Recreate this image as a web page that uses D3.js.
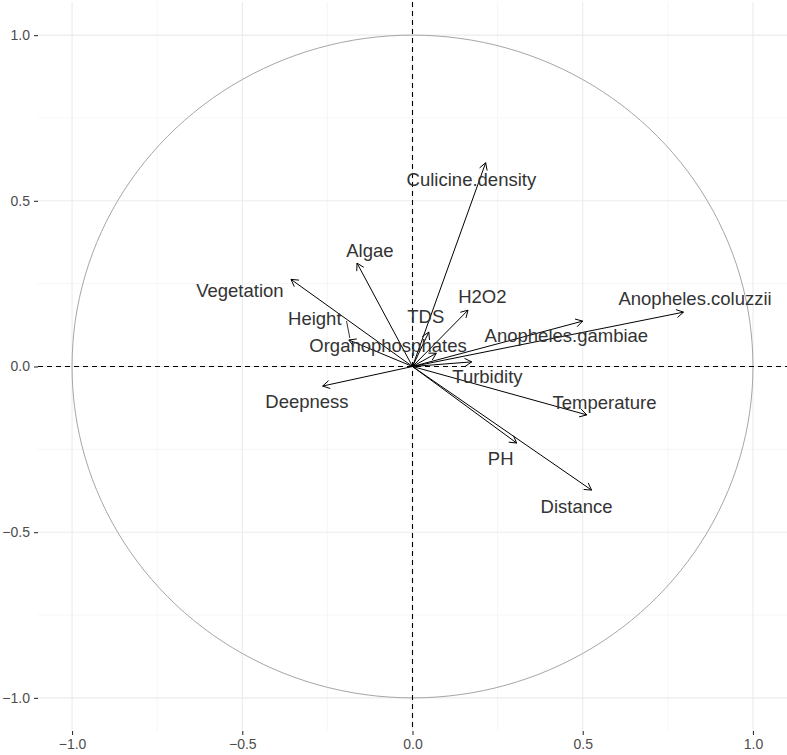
<!DOCTYPE html>
<html>
<head>
<meta charset="utf-8">
<script src="https://cdn.jsdelivr.net/npm/d3@7"></script>
<style>
  body { margin: 0; background: #fff; }
  svg { display: block; font-family: "Liberation Sans", Arial, sans-serif; }
</style>
</head>
<body>
<svg id="chart" width="787" height="755"></svg>
<script>
// variables and their coordinates (correlation with dim 1 / dim 2)
const variables = ["Culicine.density", "Algae", "Vegetation", "H2O2", "Anopheles.coluzzii", "TDS", "Height",
  "Organophosphates", "Anopheles.gambiae", "Turbidity", "Deepness", "Temperature", "PH", "Distance"];
const dim1 = [0.215, -0.163, -0.357, 0.163, 0.796, 0.048, -0.187, 0.07, 0.50, 0.174, -0.264, 0.512, 0.306, 0.526];
const dim2 = [0.615, 0.312, 0.263, 0.170, 0.164, 0.104, 0.080, 0.04, 0.137, 0.014, -0.059, -0.146, -0.231, -0.373];
// where the (repelled) labels sit, in data units
const labelX = [0.173, -0.125, -0.507, 0.205, 0.830, 0.039, -0.287, -0.072, 0.452, 0.220, -0.310, 0.564, 0.259, 0.482];
const labelY = [0.563, 0.349, 0.229, 0.211, 0.204, 0.150, 0.146, 0.062, 0.095, -0.031, -0.106, -0.110, -0.279, -0.423];
const ticks = [-1.0, -0.5, 0.0, 0.5, 1.0];
const minorTicks = [-0.75, -0.25, 0.25, 0.75];

const svg = d3.select("#chart");
const panel = { left: 38, right: 787, top: 2, bottom: 731 };

const x = d3.scaleLinear().domain([-1.1, 1.1]).range([panel.left, panel.right]);
const y = d3.scaleLinear().domain([-1.1, 1.1]).range([panel.bottom, panel.top]);

// grid
const grid = svg.append("g");
grid.selectAll(".vmin").data(minorTicks).enter().append("line")
  .attr("x1", d => x(d)).attr("x2", d => x(d))
  .attr("y1", panel.top).attr("y2", panel.bottom)
  .attr("stroke", "#f0f0f0").attr("stroke-width", 0.6);
grid.selectAll(".hmin").data(minorTicks).enter().append("line")
  .attr("y1", d => y(d)).attr("y2", d => y(d))
  .attr("x1", panel.left).attr("x2", panel.right)
  .attr("stroke", "#f0f0f0").attr("stroke-width", 0.6);
grid.selectAll(".vmaj").data(ticks).enter().append("line")
  .attr("x1", d => x(d)).attr("x2", d => x(d))
  .attr("y1", panel.top).attr("y2", panel.bottom)
  .attr("stroke", "#ebebeb").attr("stroke-width", 1.1);
grid.selectAll(".hmaj").data(ticks).enter().append("line")
  .attr("y1", d => y(d)).attr("y2", d => y(d))
  .attr("x1", panel.left).attr("x2", panel.right)
  .attr("stroke", "#ebebeb").attr("stroke-width", 1.1);

// axes (ticks + labels only)
const fmt = d3.format(".1f");
const xAxis = svg.append("g")
  .attr("transform", "translate(0," + panel.bottom + ")")
  .call(d3.axisBottom(x).tickValues(ticks).tickFormat(fmt).tickSize(4).tickPadding(4));
const yAxis = svg.append("g")
  .attr("transform", "translate(" + panel.left + ",0)")
  .call(d3.axisLeft(y).tickValues(ticks).tickFormat(fmt).tickSize(4).tickPadding(4));
[xAxis, yAxis].forEach(a => {
  a.select(".domain").remove();
  a.selectAll(".tick line").attr("stroke", "#333").attr("stroke-width", 1.1);
  a.selectAll(".tick text").attr("fill", "#4d4d4d").attr("font-size", 14)
    .attr("font-family", "Liberation Sans, Arial, sans-serif");
});

// unit circle
const circle = d3.range(0, 361, 2).map(a => [Math.cos(a * Math.PI / 180), Math.sin(a * Math.PI / 180)]);
svg.append("path")
  .attr("d", d3.line().x(d => x(d[0])).y(d => y(d[1]))(circle))
  .attr("fill", "none").attr("stroke", "#a6a6a6").attr("stroke-width", 1);

// dashed zero lines
svg.append("line").attr("x1", x(0)).attr("x2", x(0)).attr("y1", panel.top).attr("y2", panel.bottom)
  .attr("stroke", "#000").attr("stroke-width", 1.1).attr("stroke-dasharray", "5,4");
svg.append("line").attr("y1", y(0)).attr("y2", y(0)).attr("x1", panel.left).attr("x2", panel.right)
  .attr("stroke", "#000").attr("stroke-width", 1.1).attr("stroke-dasharray", "5,4");

// arrows
const data = variables.map((v, i) => ({ name: v, x: dim1[i], y: dim2[i], lx: labelX[i], ly: labelY[i] }));
const arrows = svg.append("g");
const headLen = 8, headAng = Math.PI / 6;
data.forEach(d => {
  const x0 = x(0), y0 = y(0), x1 = x(d.x), y1 = y(d.y);
  const ang = Math.atan2(y1 - y0, x1 - x0);
  arrows.append("line").attr("x1", x0).attr("y1", y0).attr("x2", x1).attr("y2", y1)
    .attr("stroke", "#000").attr("stroke-width", 1);
  const p1 = [x1 - headLen * Math.cos(ang - headAng), y1 - headLen * Math.sin(ang - headAng)];
  const p2 = [x1 - headLen * Math.cos(ang + headAng), y1 - headLen * Math.sin(ang + headAng)];
  arrows.append("path")
    .attr("d", "M" + p1 + "L" + [x1, y1] + "L" + p2)
    .attr("fill", "none").attr("stroke", "#000").attr("stroke-width", 1);
});

// labels
const labels = svg.append("g").selectAll("text").data(data).enter().append("text")
  .attr("x", d => x(d.lx)).attr("y", d => y(d.ly))
  .attr("text-anchor", "middle").attr("dominant-baseline", "central")
  .attr("font-size", 18.5).attr("fill", "#333")
  .text(d => d.name);

// repel segment for Height (label pushed away from its tip)
labels.filter(d => d.name === "Height").each(function(d) {
  const b = this.getBBox();
  svg.append("line")
    .attr("x1", b.x + b.width + 5).attr("y1", b.y + b.height / 2 + 3)
    .attr("x2", x(d.x) + 1).attr("y2", y(d.y) - 2)
    .attr("stroke", "#333").attr("stroke-width", 1);
});
</script>
</body>
</html>
